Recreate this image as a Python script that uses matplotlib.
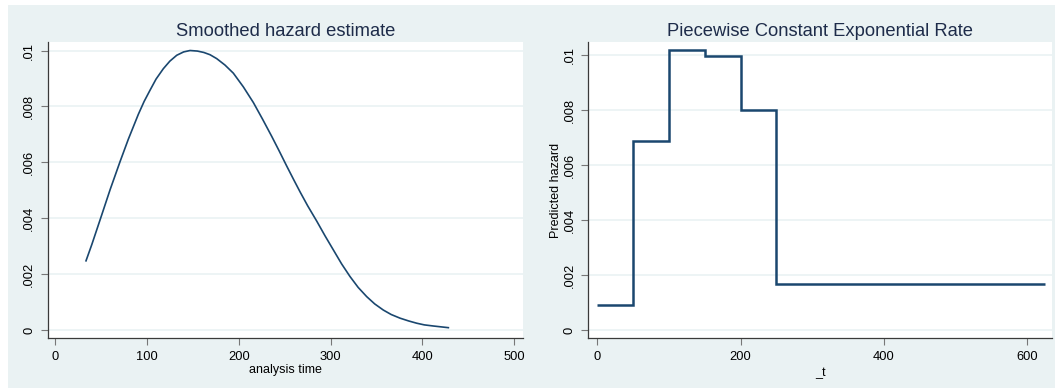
import matplotlib
matplotlib.use("Agg")
import matplotlib.pyplot as plt
from matplotlib.patches import Rectangle

# ---- data ----
smooth_t = [33.7, 40, 45, 50.8, 60, 70.8, 79.8, 90.7, 97, 103.4, 110, 117.9,
            125, 132.5, 140, 147, 155, 162, 168.7, 176, 185, 194.1, 205,
            215.9, 226, 235.9, 244, 252.2, 260, 267, 275, 284.9, 294, 303,
            312, 321.1, 330, 339.3, 348, 357.4, 366, 375.6, 385, 393.7, 402,
            411.8, 420, 428.2]
smooth_h = [0.00248, 0.00306, 0.00355, 0.00412, 0.00503, 0.00603, 0.00683,
            0.00772, 0.00818, 0.00858, 0.00898, 0.00935, 0.00962, 0.00983,
            0.00995, 0.01000, 0.00998, 0.00993, 0.00985, 0.00971, 0.00948,
            0.00919, 0.00870, 0.00814, 0.00754, 0.00693, 0.00641, 0.00587,
            0.00537, 0.00493, 0.00445, 0.00390, 0.00337, 0.00287, 0.00237,
            0.00192, 0.00153, 0.00120, 0.00094, 0.00072, 0.00056, 0.00043,
            0.00033, 0.00025, 0.00019, 0.00015, 0.00012, 0.00009]

pw_cuts = [0, 50, 100, 150, 200, 250, 625]
pw_rate = [0.00090, 0.00688, 0.01017, 0.00997, 0.00799, 0.00167]

yticks = [0, 0.002, 0.004, 0.006, 0.008, 0.01]
ytick_labels = ["0", ".002", ".004", ".006", ".008", ".01"]
left_xticks = [0, 100, 200, 300, 400, 500]
right_xticks = [0, 200, 400, 600]

# ---- style ----
BG = "#eaf2f3"
LINE = "#1a476f"
TITLE = "#1e2c4a"
W, H = 1058, 388

plt.rcParams['font.family'] = ['Liberation Sans', 'DejaVu Sans']
fig = plt.figure(figsize=(W / 100, H / 100), dpi=100)
fig.patch.set_facecolor("white")
fig.add_artist(Rectangle((8 / W, 0), (1055 - 8) / W, (H - 5) / H,
                         transform=fig.transFigure, facecolor=BG,
                         edgecolor="none", zorder=-10))


def make_axes(x0, x1, y0, y1):
    return fig.add_axes([x0 / W, (H - y1) / H, (x1 - x0) / W, (y1 - y0) / H])


def style(ax):
    ax.set_facecolor("white")
    for s in ("top", "right"):
        ax.spines[s].set_visible(False)
    for s in ("left", "bottom"):
        ax.spines[s].set_color("#3a3a3a")
        ax.spines[s].set_linewidth(0.9)
    ax.set_yticks(yticks)
    ax.set_yticklabels(ytick_labels, rotation=90, va="center")
    ax.tick_params(axis="both", direction="out", length=5, width=0.8,
                   color="#777777", labelsize=9.3, labelcolor="black", pad=4)
    ax.grid(axis="y", color=BG, linewidth=1.2)
    ax.set_axisbelow(True)


# Left panel
ax1 = make_axes(47.7, 523.3, 41.7, 338.3)
style(ax1)
ax1.plot(smooth_t, smooth_h, color=LINE, linewidth=1.2,
         solid_joinstyle="round")
ax1.set_xlim(-8.0, 509.8)
ax1.set_ylim(-0.000290, 0.010315)
ax1.set_xticks(left_xticks)
ax1.set_xticklabels([str(v) for v in left_xticks])
ax1.set_title("Smoothed hazard estimate", fontsize=13.2, color=TITLE, pad=4)
ax1.set_xlabel("analysis time", fontsize=9, labelpad=1)

# Right panel
ax2 = make_axes(588.3, 1052, 41.7, 338.3)
style(ax2)
ax2.stairs(pw_rate, pw_cuts, color=LINE, linewidth=1.8, baseline=None)
ax2.set_xlim(-12.4, 634.3)
ax2.set_ylim(-0.000303, 0.010488)
ax2.set_xticks(right_xticks)
ax2.set_xticklabels([str(v) for v in right_xticks])
ax2.set_title("Piecewise Constant Exponential Rate", fontsize=13.2,
              color=TITLE, pad=4)
ax2.set_xlabel("_t", fontsize=9, labelpad=3)
ax2.set_ylabel("Predicted hazard", fontsize=9, labelpad=1)

fig.savefig("out.png", dpi=100, facecolor=fig.get_facecolor())
